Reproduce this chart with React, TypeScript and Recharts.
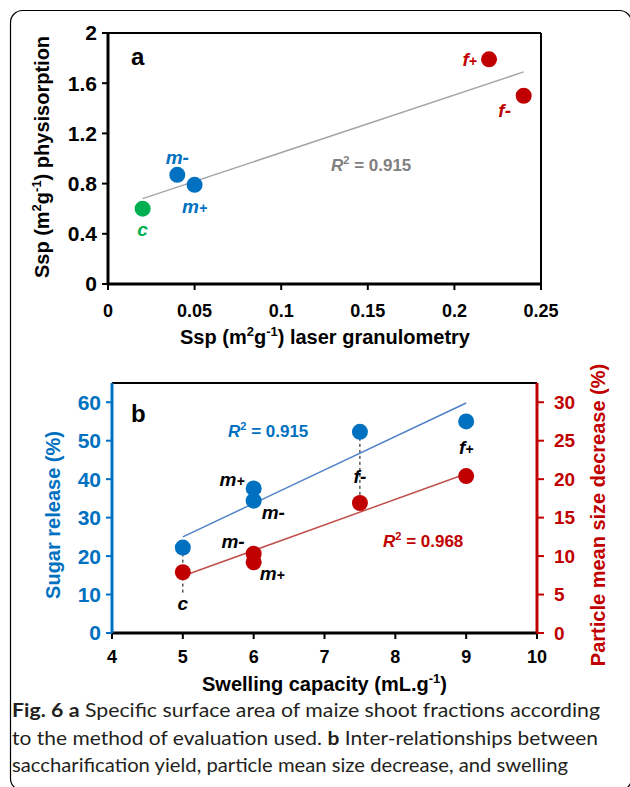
import React from 'react';
import { ScatterChart, Scatter, XAxis, YAxis, ReferenceLine } from 'recharts';

const FONT = '"Liberation Sans", Arial, Helvetica, sans-serif';
const CAPTION_FONT = 'Lato, "Open Sans", sans-serif';
const BLUE = '#0070C0';
const RED = '#C00000';
const GREEN = '#00B050';
const GRAY_LINE = '#A6A6A6';
const GRAY_TEXT = '#808080';
const BLUE_LINE = '#4F81C7';
const RED_LINE = '#C0504D';

// ---------- Panel a ----------
const aNames = ['c', 'm-', 'm+', 'f+', 'f-'];
const aLaser = [0.02, 0.04, 0.05, 0.22, 0.24];
const aPhysisorption = [0.6, 0.87, 0.79, 1.79, 1.5];
const aTrendX = [0.02, 0.24];
const aTrendY = [0.68, 1.69];
const aXTicks = [0, 0.05, 0.1, 0.15, 0.2, 0.25];
const aYTicks = [0, 0.4, 0.8, 1.2, 1.6, 2];

// ---------- Panel b ----------
const bSugarNames = ['c', 'm+', 'm-', 'f-', 'f+'];
const bSugarSwelling = [5, 6, 6, 7.5, 9];
const bSugar = [22.2, 37.6, 34.4, 52.3, 55];
const bSizeNames = ['c', 'm-', 'm+', 'f-', 'f+'];
const bSizeSwelling = [5, 6, 6, 7.5, 9];
const bSize = [7.9, 10.3, 9.2, 16.9, 20.4];
const bSugarTrendX = [5, 9];
const bSugarTrendY = [25, 59.8];
const bSizeTrendX = [5, 9];
const bSizeTrendY = [7.4, 20.7];
const bXTicks = [4, 5, 6, 7, 8, 9, 10];
const bLeftTicks = [0, 10, 20, 30, 40, 50, 60];
const bRightTicks = [0, 5, 10, 15, 20, 25, 30];

type Anchor = 'start' | 'middle' | 'end';
// label placement (style): [anchor, dx, dy]
const aLabelPos: Record<string, [Anchor, number, number]> = {
  c: ['middle', 0, 27],
  'm-': ['middle', 0, -11],
  'm+': ['middle', 0, 28],
  'f+': ['end', -12, 7],
  'f-': ['middle', -19, 21],
};
const bSugarLabelPos: Record<string, [Anchor, number, number]> = {
  'm+': ['end', -9, -2],
  'm-': ['start', 8, 18],
  'f+': ['middle', 0, 33],
};
const bSizeLabelPos: Record<string, [Anchor, number, number]> = {
  c: ['middle', 0, 38],
  'm-': ['end', -9, -6],
  'm+': ['start', 6, 18],
  'f-': ['middle', 0, -20],
};
const groupColor: Record<string, string> = { c: GREEN, m: BLUE, f: RED };

const zip = (names: string[], xs: number[], ys: number[]) =>
  xs.map((x, i) => ({ name: names[i], x, y: ys[i] }));
const pairs = (xs: number[], ys: number[]) => xs.map((x, i) => ({ x, y: ys[i] }));

const aAll = zip(aNames, aLaser, aPhysisorption);
const aGroups = ['c', 'm', 'f'].map((g) => ({ g, data: aAll.filter((d) => d.name[0] === g) }));

const PointLabel = ({ x, y, anchor, name, color }: any) => {
  const letter = name[0];
  const sign = name.slice(1);
  return (
    <text x={x} y={y} textAnchor={anchor} fill={color} fontFamily={FONT} fontWeight={700} fontStyle="italic" fontSize={19}>
      {letter}
      <tspan fontSize={sign === '+' ? 14 : 19}>{sign}</tspan>
    </text>
  );
};

const makeDot = (color: string, labelColor: string | null, pos: Record<string, [Anchor, number, number]>) => (props: any) => {
  const { cx, cy, payload } = props;
  const p = pos[payload.name];
  return (
    <g>
      <circle cx={cx} cy={cy} r={8} fill={color} />
      {p && (
        <PointLabel x={cx + p[1]} y={cy + p[2]} anchor={p[0]} name={payload.name} color={labelColor || color} />
      )}
    </g>
  );
};

const noDot = () => <g />;

const tickStyle = (fill: string, size = 18) => ({ fill, fontSize: size, fontWeight: 700, fontFamily: FONT });

const ChartA = () => (
  <ScatterChart width={630} height={350} margin={{ top: 33, right: 89, bottom: 16, left: 48 }}>
    <XAxis
      type="number"
      dataKey="x"
      domain={[0, 0.25]}
      ticks={aXTicks}
      height={50}
      axisLine={{ stroke: '#000', strokeWidth: 3 }}
      tickLine={{ stroke: '#000', strokeWidth: 2 }}
      tickSize={6}
      tickMargin={14}
      tick={tickStyle('#000')}
    />
    <YAxis
      type="number"
      dataKey="y"
      domain={[0, 2]}
      ticks={aYTicks}
      width={60}
      axisLine={{ stroke: '#000', strokeWidth: 3 }}
      tickLine={{ stroke: '#000', strokeWidth: 2 }}
      tickSize={6}
      tickMargin={5}
      tick={tickStyle('#000', 21)}
    />
    <ReferenceLine y={2} stroke="#000" strokeWidth={2} />
    <ReferenceLine x={0.25} stroke="#000" strokeWidth={2} />
    <Scatter
      data={pairs(aTrendX, aTrendY)}
      line={{ stroke: GRAY_LINE, strokeWidth: 1.5 }}
      shape={noDot}
      isAnimationActive={false}
    />
    {aGroups.map((gr) => (
      <Scatter
        key={gr.g}
        data={gr.data}
        shape={makeDot(groupColor[gr.g], null, aLabelPos)}
        isAnimationActive={false}
      />
    ))}
  </ScatterChart>
);

const ChartB = () => (
  <ScatterChart width={630} height={360} margin={{ top: 33, right: 33, bottom: 27, left: 52 }}>
    <XAxis
      type="number"
      dataKey="x"
      domain={[4, 10]}
      ticks={bXTicks}
      height={50}
      axisLine={{ stroke: '#000', strokeWidth: 3 }}
      tickLine={{ stroke: '#000', strokeWidth: 2 }}
      tickSize={6}
      tickMargin={11}
      tick={tickStyle('#000')}
    />
    <YAxis
      yAxisId="left"
      type="number"
      dataKey="y"
      domain={[0, 65]}
      ticks={bLeftTicks}
      width={60}
      axisLine={{ stroke: BLUE, strokeWidth: 3 }}
      tickLine={{ stroke: BLUE, strokeWidth: 2 }}
      tickSize={6}
      tickMargin={5}
      tick={tickStyle(BLUE, 21)}
    />
    <YAxis
      yAxisId="right"
      orientation="right"
      type="number"
      dataKey="y"
      domain={[0, 32.5]}
      ticks={bRightTicks}
      width={60}
      axisLine={{ stroke: RED, strokeWidth: 3 }}
      tickLine={{ stroke: RED, strokeWidth: 2 }}
      tickSize={7}
      tickMargin={10}
      tick={tickStyle(RED, 19)}
    />
    <ReferenceLine yAxisId="left" y={65} stroke="#000" strokeWidth={2} />
    <ReferenceLine
      yAxisId="left"
      segment={[{ x: 5, y: 22.2 }, { x: 5, y: 9.9 }]}
      stroke="#000"
      strokeWidth={1}
      strokeDasharray="3 3"
    />
    <ReferenceLine
      yAxisId="left"
      segment={[{ x: 7.5, y: 52.3 }, { x: 7.5, y: 33.8 }]}
      stroke="#000"
      strokeWidth={1}
      strokeDasharray="3 3"
    />
    <Scatter
      yAxisId="left"
      data={pairs(bSugarTrendX, bSugarTrendY)}
      line={{ stroke: BLUE_LINE, strokeWidth: 1.5 }}
      shape={noDot}
      isAnimationActive={false}
    />
    <Scatter
      yAxisId="right"
      data={pairs(bSizeTrendX, bSizeTrendY)}
      line={{ stroke: RED_LINE, strokeWidth: 1.5 }}
      shape={noDot}
      isAnimationActive={false}
    />
    <Scatter
      yAxisId="left"
      data={zip(bSugarNames, bSugarSwelling, bSugar)}
      shape={makeDot(BLUE, '#000', bSugarLabelPos)}
      isAnimationActive={false}
    />
    <Scatter
      yAxisId="right"
      data={zip(bSizeNames, bSizeSwelling, bSize)}
      shape={makeDot(RED, '#000', bSizeLabelPos)}
      isAnimationActive={false}
    />
  </ScatterChart>
);

const R2 = ({ x, y, color, value }: any) => (
  <text x={x} y={y} fill={color} fontFamily={FONT} fontWeight={700} fontSize={17}>
    <tspan fontStyle="italic">R</tspan>
    <tspan fontSize={11} dy={-7}>2</tspan>
    <tspan dy={7}>{` = ${value}`}</tspan>
  </text>
);

const SspTitle = ({ rest }: { rest: string }) => (
  <>
    {'Ssp (m'}
    <tspan fontSize={13} dy={-8}>2</tspan>
    <tspan dy={8}>g</tspan>
    <tspan fontSize={13} dy={-8}>-1</tspan>
    <tspan dy={8}>{`) ${rest}`}</tspan>
  </>
);

const titleProps = { fontFamily: FONT, fontWeight: 700, fontSize: 20 } as const;

const Overlay = () => (
  <svg width={630} height={787} style={{ position: 'absolute', left: 0, top: 0, pointerEvents: 'none' }}>
    <rect x={10.5} y={10.5} width={621} height={780} rx={12} ry={12} fill="none" stroke="#000" strokeWidth={1.2} />
    {/* panel letters */}
    <text x={131} y={65} {...titleProps} fontSize={24}>a</text>
    <text x={131} y={422} {...titleProps} fontSize={24}>b</text>
    {/* R2 annotations */}
    <R2 x={331} y={171} color={GRAY_TEXT} value="0.915" />
    <R2 x={228} y={437} color={BLUE} value="0.915" />
    <R2 x={383} y={547} color={RED} value="0.968" />
    {/* axis titles, panel a */}
    <text transform="translate(49,157) rotate(-90)" textAnchor="middle" fill="#000" {...titleProps}>
      <SspTitle rest="physisorption" />
    </text>
    <text x={325} y={344} textAnchor="middle" fill="#000" {...titleProps}>
      <SspTitle rest="laser granulometry" />
    </text>
    {/* axis titles, panel b */}
    <text transform="translate(60,515) rotate(-90)" textAnchor="middle" fill={BLUE} {...titleProps}>
      Sugar release (%)
    </text>
    <text transform="translate(605,515) rotate(-90)" textAnchor="middle" fill={RED} {...titleProps}>
      Particle mean size decrease (%)
    </text>
    <text x={324.5} y={691} textAnchor="middle" fill="#000" {...titleProps}>
      {'Swelling capacity (mL.g'}
      <tspan fontSize={13} dy={-8}>-1</tspan>
      <tspan dy={8}>)</tspan>
    </text>
    {/* caption */}
    <g fontFamily={CAPTION_FONT} fontSize={19} fill="#231F20">
      <text x={12} y={717} textLength={588} lengthAdjust="spacingAndGlyphs">
        <tspan fontWeight={700}>Fig. 6</tspan>
        {'  '}
        <tspan fontWeight={700}>a</tspan>
        {' Specific surface area of maize shoot fractions according'}
      </text>
      <text x={12} y={745} textLength={586} lengthAdjust="spacingAndGlyphs">
        {'to the method of evaluation used. '}
        <tspan fontWeight={700}>b</tspan>
        {' Inter-relationships between'}
      </text>
      <text x={12} y={772} textLength={556} lengthAdjust="spacingAndGlyphs">
        saccharification yield, particle mean size decrease, and swelling
      </text>
    </g>
  </svg>
);

export default function App() {
  return (
    <div style={{ position: 'absolute', left: 0, top: 0, width: 630, height: 787, background: '#fff', overflow: 'hidden', fontFamily: FONT }}>
      <div style={{ position: 'absolute', left: 0, top: 0 }}>
        <ChartA />
      </div>
      <div style={{ position: 'absolute', left: 0, top: 350 }}>
        <ChartB />
      </div>
      <Overlay />
    </div>
  );
}
